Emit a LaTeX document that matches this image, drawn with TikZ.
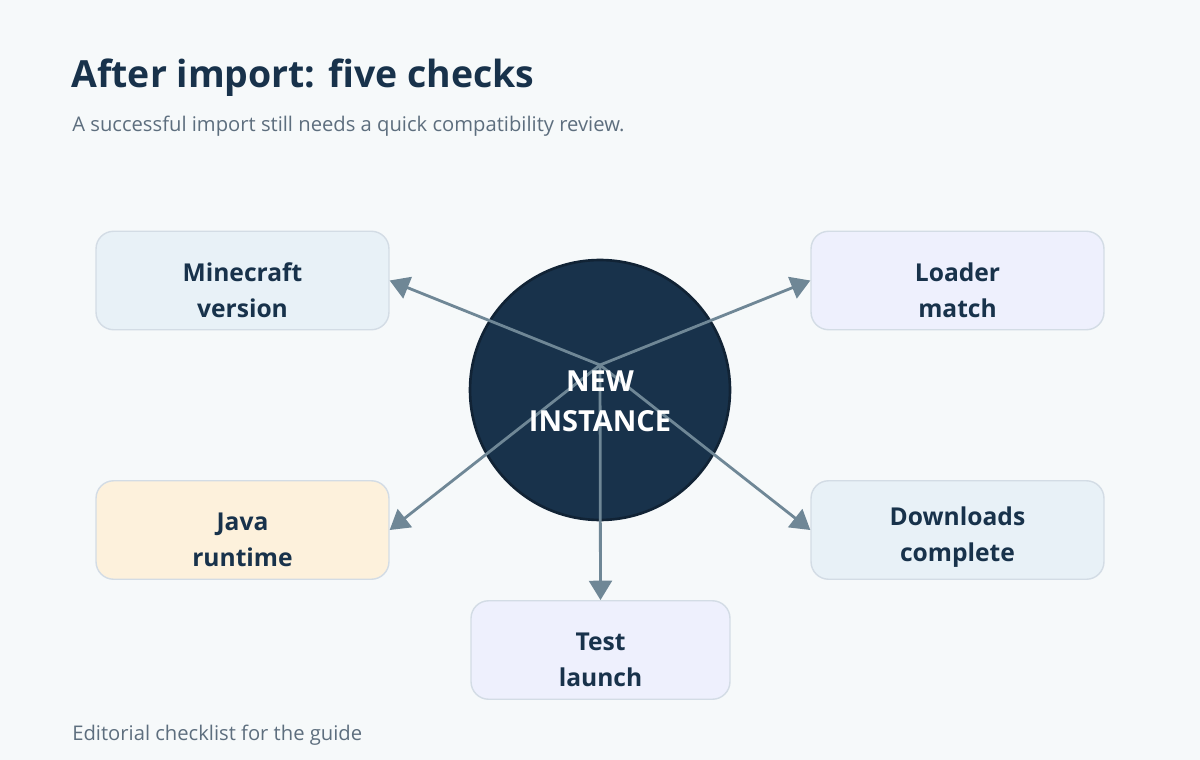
\documentclass[tikz,border=0pt]{standalone}
\usepackage{fontspec}
\setmainfont{Open Sans}
\usetikzlibrary{arrows.meta}
\definecolor{bg}{HTML}{F6F9FA}
\definecolor{navy}{HTML}{18324B}
\definecolor{arr}{HTML}{6F8796}
\definecolor{bd}{HTML}{D3DCE5}
\definecolor{cA}{HTML}{E8F1F7}
\definecolor{cB}{HTML}{EEF0FD}
\definecolor{cC}{HTML}{FDF1DC}
\definecolor{sub}{HTML}{5D6E7E}
\begin{document}
\begin{tikzpicture}[x=0.02cm,y=-0.02cm,
 box/.style={draw=bd,line width=0.8pt,rounded corners=10pt,minimum width=5.86cm,minimum height=1.97cm,align=center,font=\fontsize{14}{20.5}\selectfont\bfseries,text=navy,inner sep=0},
 lbl/.style={align=center,font=\fontsize{14}{20.5}\selectfont\bfseries,text=navy,inner sep=0},
 con/.style={draw=arr,line width=1.6pt,-{Triangle[width=13pt,length=11pt]}}]
\fill[bg] (0,0) rectangle (1200,760);
\useasboundingbox (0,0) rectangle (1200,760);
\node[anchor=west,font=\fontsize{21.3}{24}\selectfont\bfseries,text=navy,inner sep=0] (t) at (71,78) {After import: five checks};
\node[anchor=west,font=\fontsize{11.5}{14}\selectfont,text=sub,inner sep=0] (s) at (72,126) {A successful import still needs a quick compatibility review.};
\node[anchor=west,font=\fontsize{11.5}{14}\selectfont,text=sub,inner sep=0] (f) at (72,735) {Editorial checklist for the guide};
\node[circle,fill=navy,draw=navy!70!black,line width=1.5pt,minimum size=5.2cm] (c) at (600,390) {};
\node[box,fill=cA] (m) at (242.5,280.5) {};
\node[box,fill=cB] (l) at (957.5,280.5) {};
\node[box,fill=cC] (j) at (242.5,530) {};
\node[box,fill=cA] (d) at (957.5,530) {};
\node[box,fill=cB,minimum width=5.18cm] (te) at (600.5,650) {};
\node[lbl] (mt) at (242.5,290) {Minecraft\\version};
\node[lbl] (lt) at (957.5,290) {Loader\\match};
\node[lbl] (jt) at (242.5,540) {Java\\runtime};
\node[lbl] (dt) at (957.5,537) {Downloads\\complete};
\node[lbl] (tt) at (600.5,660) {Test\\launch};
\coordinate (o) at (600,365);
\draw[con] (o) -- (m.east);
\draw[con] (o) -- (l.west);
\draw[con] (o) -- (j.east);
\draw[con] (o) -- (d.west);
\draw[con] (o) -- (te.north);
\node[align=center,font=\fontsize{16.5}{23}\selectfont\bfseries,text=white] (ct) at (600,401) {NEW\\INSTANCE};
\end{tikzpicture}
\end{document}
